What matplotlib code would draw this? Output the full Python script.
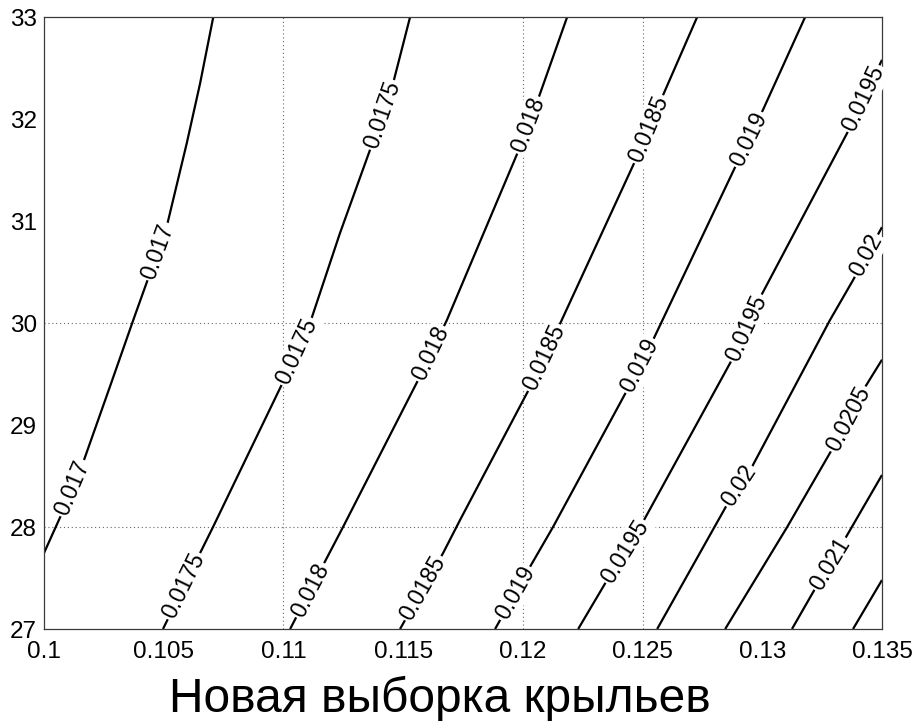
import numpy as np
import matplotlib
matplotlib.use("Agg")
import matplotlib.pyplot as plt

# ---- data (x, y points) ----
levels = [0.017, 0.0175, 0.018, 0.0185, 0.019, 0.0195, 0.02, 0.0205, 0.021, 0.0215]

line_x = [
    [0.1000, 0.10074, 0.10157, 0.10276, 0.10373, 0.10437, 0.10512, 0.10596, 0.10652, 0.10707],
    [0.10497, 0.10652, 0.10706, 0.10998, 0.11111, 0.11236, 0.11362, 0.11458, 0.11529],
    [0.11028, 0.11162, 0.11249, 0.11558, 0.11683, 0.11980, 0.12063, 0.12185],
    [0.11487, 0.11667, 0.11738, 0.12030, 0.12143, 0.12477, 0.12581, 0.12728],
    [0.11884, 0.12030, 0.12126, 0.12435, 0.12537, 0.12895, 0.13003, 0.13179],
    [0.12231, 0.12352, 0.12490, 0.12878, 0.12991, 0.13354, 0.13500],
    [0.12561, 0.12853, 0.12957, 0.13283, 0.13379, 0.13500],
    [0.12845, 0.13104, 0.13296, 0.13421, 0.13500],
    [0.13124, 0.13229, 0.13337, 0.13500],
    [0.13379, 0.13500],
]
line_y = [
    [27.745, 28.13, 28.59, 29.38, 30.03, 30.45, 30.94, 31.76, 32.35, 33.0],
    [27.0, 27.745, 28.0, 29.42, 30.0, 30.88, 31.70, 32.35, 33.0],
    [27.0, 27.61, 28.0, 29.42, 30.03, 31.68, 32.19, 33.0],
    [27.0, 27.745, 28.07, 29.37, 29.93, 31.63, 32.21, 33.0],
    [27.0, 27.61, 28.0, 29.34, 29.80, 31.57, 32.09, 33.0],
    [27.0, 27.48, 28.0, 29.66, 30.25, 31.86, 32.58],
    [27.0, 28.22, 28.59, 30.03, 30.42, 30.94],
    [27.0, 28.0, 28.78, 29.34, 29.64],
    [27.0, 27.43, 27.85, 28.51],
    [27.0, 27.48],
]
# label positions (y value on each contour)
label_y = [
    [28.38, 30.70],
    [27.42, 29.72, 32.04],
    [27.38, 29.70, 31.94],
    [27.40, 29.66, 31.90],
    [27.35, 29.58, 31.80],
    [27.76, 29.95, 32.20],
    [28.40, 30.66],
    [29.06],
    [27.64],
    [],
]

x_ticks = [0.1, 0.105, 0.11, 0.115, 0.12, 0.125, 0.13, 0.135]
x_tick_labels = ["0.1", "0.105", "0.11", "0.115", "0.12", "0.125", "0.13", "0.135"]
y_ticks = [27, 28, 29, 30, 31, 32, 33]
y_tick_labels = ["27", "28", "29", "30", "31", "32", "33"]
grid_x = [0.11, 0.12, 0.125]
grid_y = [28, 30]
x_label = "Новая выборка крыльев"

# ---- figure ----
plt.rcParams['font.family'] = ['Liberation Sans', 'DejaVu Sans']
fig = plt.figure(figsize=(9.15, 7.21), dpi=100)
ax = fig.add_axes([44 / 915, 1 - 629 / 721, (882 - 44) / 915, (629 - 17) / 721])
ax.set_xlim(0.1, 0.135)
ax.set_ylim(27, 33)

frame_col = '#3a3a3a'
for s in ax.spines.values():
    s.set_color(frame_col)
    s.set_linewidth(0.9)

ax.set_xticks(x_ticks)
ax.set_xticklabels(x_tick_labels)
ax.set_yticks(y_ticks)
ax.set_yticklabels(y_tick_labels)
ax.tick_params(axis='both', which='major', length=0, labelsize=17.5, colors='black')
ax.tick_params(axis='x', pad=9)
ax.tick_params(axis='y', pad=5)

ax.set_xticks(grid_x, minor=True)
ax.set_yticks(grid_y, minor=True)
ax.tick_params(axis='both', which='minor', direction='in', length=7, width=0.9,
               color='#555555', top=True, right=True)

for gx in grid_x:
    ax.axvline(gx, color='#666666', lw=0.8, ls=(0, (1, 2.5)), zorder=1)
for gy in grid_y:
    ax.axhline(gy, color='#666666', lw=0.8, ls=(0, (1, 2.5)), zorder=1)

for lev, xs, ys, lys in zip(levels, line_x, line_y, label_y):
    ax.plot(xs, ys, color='black', lw=1.6, zorder=2, solid_capstyle='butt',
            solid_joinstyle='round')
    for ly in lys:
        lx = np.interp(ly, ys, xs)
        p0 = ax.transData.transform((np.interp(ly - 0.08, ys, xs), ly - 0.08))
        p1 = ax.transData.transform((np.interp(ly + 0.08, ys, xs), ly + 0.08))
        ang = np.degrees(np.arctan2(p1[1] - p0[1], p1[0] - p0[0]))
        ax.text(lx, ly, f"{lev:g}", fontsize=16.5, rotation=ang, rotation_mode='anchor',
                ha='center', va='center', zorder=3,
                bbox=dict(boxstyle='square,pad=0.08', fc='white', ec='none'))

fig.text(440 / 915, 1 - 712 / 721, x_label, fontsize=34.5, ha='center', va='baseline')

fig.savefig("out.png", dpi=100, facecolor='white')
